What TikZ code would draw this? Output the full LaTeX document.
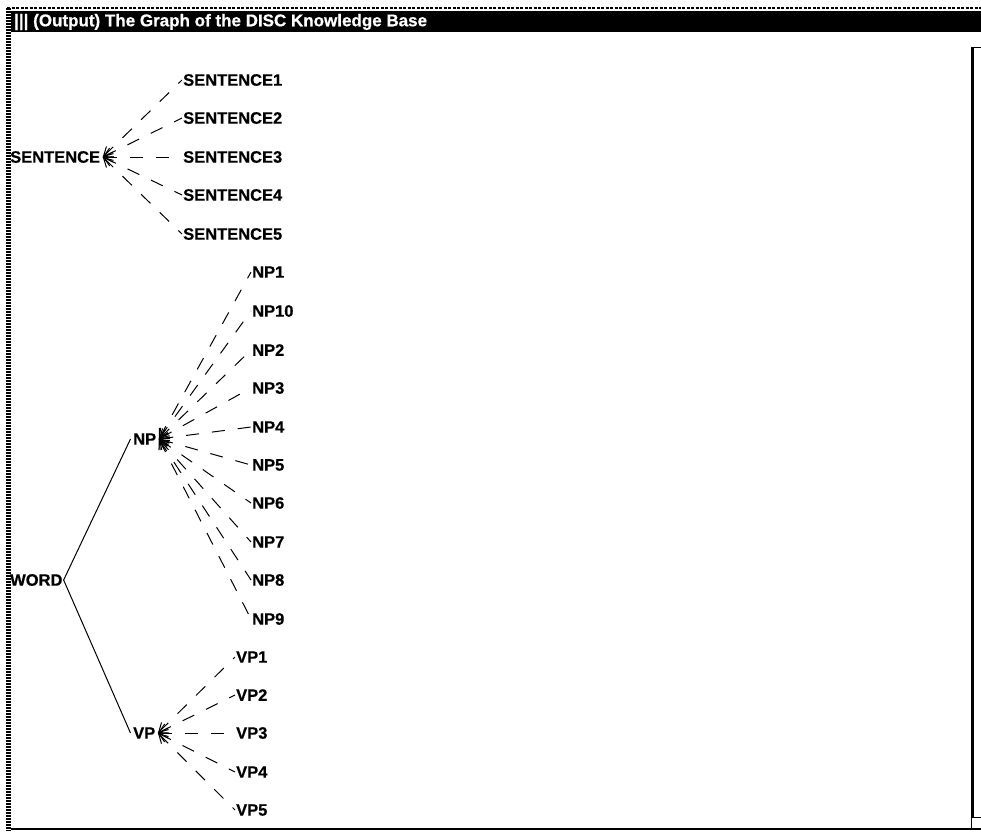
\documentclass[tikz,border=0pt]{standalone}
\usepackage{fontspec}
\setmainfont{Liberation Sans}[BoldFeatures={FakeBold=0.6}]
\usetikzlibrary{arrows.meta}

\begin{document}
\begin{tikzpicture}[x=1pt, y=-1pt,
  lbl/.style={font=\fontsize{16.5}{18}\selectfont\bfseries, inner sep=1pt, anchor=west},
  parent/.style={lbl, inner xsep=2.5pt},
  ttl/.style={font=\fontsize{17}{18}\selectfont\bfseries, text=white, inner sep=0pt, anchor=west},
  dashedge/.style={draw=black, line width=1pt, dash pattern=on 13pt off 13pt, {Straight Barb[length=9pt,width=10pt]}-},
  solidedge/.style={draw=black, line width=1pt},
  frameline/.style={draw=black, line width=1.5pt}
]
\useasboundingbox (0,0) rectangle (981,831);

\draw[draw=black, line width=2pt, dash pattern=on 3pt off 1.5pt] (7,8) -- (981,8);
\draw[draw=black, line width=5pt, dash pattern=on 2pt off 1pt] (8,8) -- (8,831);
\fill[black] (11,11) rectangle (981,32);
\node[ttl] (title) at (14,22) {||| (Output) The Graph of the DISC Knowledge Base};
\draw[frameline] (11,829) -- (981,829);
\draw[draw=black, line width=3pt] (972,47) -- (972,817);
\draw[draw=black, line width=1pt] (972,47.5) -- (981,47.5);
\draw[draw=black, line width=1pt] (972,817) -- (981,817);
\draw[draw=black, line width=1pt] (971,817) -- (971,829);

\node[parent] (snt) at (7.5,157) {SENTENCE};
\node[lbl] (snt1) at (182,80) {SENTENCE1};
\node[lbl] (snt2) at (182,118) {SENTENCE2};
\node[lbl] (snt3) at (182,157) {SENTENCE3};
\node[lbl] (snt4) at (182,195) {SENTENCE4};
\node[lbl] (snt5) at (182,234) {SENTENCE5};

\node[lbl] (word) at (9,580) {WORD};
\node[parent] (np) at (130.5,439) {NP};
\node[parent] (vp) at (130.5,733) {VP};

\node[lbl] (np1) at (251,272) {NP1};
\node[lbl] (np10) at (251,311) {NP10};
\node[lbl] (np2) at (251,350) {NP2};
\node[lbl] (np3) at (251,388) {NP3};
\node[lbl] (np4) at (251,427) {NP4};
\node[lbl] (np5) at (251,465) {NP5};
\node[lbl] (np6) at (251,503) {NP6};
\node[lbl] (np7) at (251,542) {NP7};
\node[lbl] (np8) at (251,580) {NP8};
\node[lbl] (np9) at (251,619) {NP9};

\node[lbl] (vp1) at (235,657) {VP1};
\node[lbl] (vp2) at (235,695) {VP2};
\node[lbl] (vp3) at (235,733) {VP3};
\node[lbl] (vp4) at (235,772) {VP4};
\node[lbl] (vp5) at (235,810) {VP5};

\draw[dashedge] (snt.east) -- (snt1.west);
\draw[dashedge] (snt.east) -- (snt2.west);
\draw[dashedge] (snt.east) -- (snt3.west);
\draw[dashedge] (snt.east) -- (snt4.west);
\draw[dashedge] (snt.east) -- (snt5.west);

\draw[solidedge] (word.east) -- (np.west);
\draw[solidedge] (word.east) -- (vp.west);

\draw[dashedge] (np.east) -- (np1.west);
\draw[dashedge] (np.east) -- (np10.west);
\draw[dashedge] (np.east) -- (np2.west);
\draw[dashedge] (np.east) -- (np3.west);
\draw[dashedge] (np.east) -- (np4.west);
\draw[dashedge] (np.east) -- (np5.west);
\draw[dashedge] (np.east) -- (np6.west);
\draw[dashedge] (np.east) -- (np7.west);
\draw[dashedge] (np.east) -- (np8.west);
\draw[dashedge] (np.east) -- (np9.west);

\draw[dashedge] (vp.east) -- (vp1.west);
\draw[dashedge] (vp.east) -- (vp2.west);
\draw[dashedge] (vp.east) -- (vp3.west);
\draw[dashedge] (vp.east) -- (vp4.west);
\draw[dashedge] (vp.east) -- (vp5.west);

\end{tikzpicture}
\end{document}
